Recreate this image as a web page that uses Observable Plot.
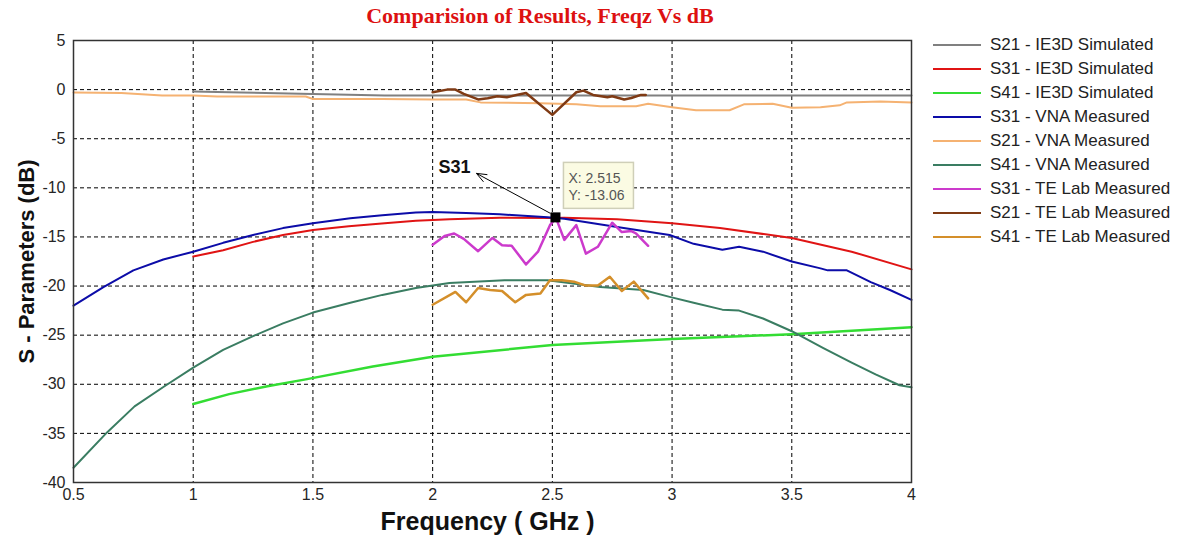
<!DOCTYPE html>
<html>
<head>
<meta charset="utf-8">
<script src="https://cdn.jsdelivr.net/npm/d3@7"></script>
<script src="https://cdn.jsdelivr.net/npm/@observablehq/plot@0.6"></script>
<style>
  html, body { margin: 0; padding: 0; background: #fff; }
  #wrap { position: relative; width: 1178px; height: 535px; overflow: hidden; background: #fff; }
  #title { height: 30px; line-height: 30px; width: 1080px; text-align: center; position: relative; top: 3px;
           font: bold 22px "Liberation Serif", "Times New Roman", serif; color: #dd1111; white-space: nowrap; }
  #legend { position: absolute; left: 933px; top: 33px; font: 17px "Liberation Sans", Arial, sans-serif; color: #222; }
  #legend .row { display: flex; align-items: center; height: 24px; line-height: 24px; white-space: nowrap; }
  #legend .sw { width: 48px; height: 2px; margin-right: 9px; }
</style>
</head>
<body>
<div id="wrap">
  <div id="title">Comparision of Results, Freqz Vs dB</div>
  <div id="chart"></div>
  <div id="legend"></div>
</div>
<script>
// ---------- data ----------
const xTicks = [0.5, 1, 1.5, 2, 2.5, 3, 3.5, 4];
const yTicks = [5, 0, -5, -10, -15, -20, -25, -30, -35, -40];

const s21Ie3dF  = [1.0, 1.2, 1.4, 1.6, 1.8, 2.0, 2.5, 3.0, 3.5, 4.0];
const s21Ie3dDb = [-0.2, -0.3, -0.4, -0.5, -0.6, -0.6, -0.6, -0.6, -0.6, -0.6];

const s31Ie3dF  = [1.0, 1.125, 1.25, 1.375, 1.5, 1.65, 1.8, 1.93, 2.07, 2.28, 2.5, 2.55, 2.77, 3.0, 3.2, 3.5, 3.75, 4.0];
const s31Ie3dDb = [-17.0, -16.35, -15.5, -14.8, -14.3, -13.9, -13.6, -13.35, -13.2, -13.05, -13.06, -13.05, -13.2, -13.6, -14.1, -15.1, -16.5, -18.3];

const s41Ie3dF  = [1.0, 1.15, 1.31, 1.47, 1.75, 2.0, 2.5, 3.0, 3.5, 4.0];
const s41Ie3dDb = [-32.0, -31.0, -30.2, -29.5, -28.2, -27.2, -26.0, -25.4, -24.9, -24.2];

const s31VnaF  = [0.5, 0.625, 0.75, 0.875, 1.0, 1.125, 1.25, 1.375, 1.5, 1.656, 1.79, 1.93, 2.0, 2.14, 2.28, 2.48, 2.55, 2.67, 2.75, 2.88, 2.99, 3.09, 3.21, 3.28, 3.38, 3.5, 3.62, 3.65, 3.73, 3.83, 3.91, 4.0];
const s31VnaDb = [-22.0, -20.1, -18.4, -17.3, -16.5, -15.6, -14.8, -14.1, -13.6, -13.1, -12.8, -12.5, -12.45, -12.55, -12.7, -13.0, -13.15, -13.6, -13.9, -14.4, -14.8, -15.7, -16.3, -16.0, -16.5, -17.5, -18.2, -18.4, -18.4, -19.6, -20.4, -21.4];

const s21VnaF  = [0.5, 0.7, 0.87, 1.0, 1.1, 1.47, 1.5, 1.79, 2.0, 2.14, 2.2, 2.45, 2.6, 2.7, 2.85, 2.9, 3.0, 3.1, 3.24, 3.3, 3.42, 3.5, 3.62, 3.7, 3.73, 3.87, 4.0];
const s21VnaDb = [-0.3, -0.35, -0.6, -0.6, -0.7, -0.7, -0.95, -0.95, -1.0, -1.0, -1.3, -1.4, -1.5, -1.7, -1.7, -1.45, -1.8, -2.1, -2.1, -1.5, -1.45, -1.85, -1.8, -1.6, -1.3, -1.2, -1.3];

const s41VnaF  = [0.5, 0.64, 0.755, 0.88, 1.0, 1.125, 1.25, 1.375, 1.5, 1.656, 1.79, 1.93, 2.07, 2.3, 2.48, 2.7, 2.88, 2.99, 3.09, 3.21, 3.28, 3.38, 3.5, 3.63, 3.75, 3.85, 3.95, 4.0];
const s41VnaDb = [-38.5, -34.9, -32.25, -30.2, -28.3, -26.5, -25.1, -23.8, -22.7, -21.7, -20.9, -20.2, -19.7, -19.4, -19.4, -20.1, -20.4, -21.1, -21.7, -22.4, -22.5, -23.3, -24.6, -26.3, -27.8, -29.0, -30.1, -30.3];

const s31TeF  = [2.0, 2.05, 2.09, 2.13, 2.19, 2.25, 2.29, 2.33, 2.39, 2.44, 2.49, 2.515, 2.55, 2.6, 2.64, 2.69, 2.75, 2.79, 2.83, 2.85, 2.9];
const s31TeDb = [-15.8, -14.9, -14.65, -15.2, -16.45, -15.1, -15.85, -15.9, -17.8, -16.5, -13.8, -13.06, -15.3, -13.8, -16.7, -16.0, -13.55, -14.5, -14.4, -14.65, -15.9];

const s21TeF  = [2.0, 2.06, 2.095, 2.13, 2.19, 2.23, 2.27, 2.31, 2.35, 2.39, 2.5, 2.6, 2.63, 2.67, 2.73, 2.75, 2.8, 2.83, 2.87, 2.89];
const s21TeDb = [-0.27, 0.0, 0.0, -0.44, -1.0, -0.88, -0.68, -0.78, -0.54, -0.34, -2.57, -0.27, -0.1, -0.54, -0.78, -0.68, -1.0, -0.85, -0.54, -0.54];

const s41TeF  = [2.0, 2.095, 2.14, 2.19, 2.24, 2.29, 2.345, 2.39, 2.45, 2.49, 2.54, 2.59, 2.64, 2.69, 2.74, 2.79, 2.84, 2.9];
const s41TeDb = [-21.9, -20.6, -21.65, -20.2, -20.4, -20.5, -21.65, -20.9, -20.75, -19.4, -19.4, -19.55, -19.95, -19.95, -19.05, -20.5, -19.55, -21.25];

const seriesNames  = ["S21 - IE3D Simulated", "S31 - IE3D Simulated", "S41 - IE3D Simulated",
                      "S31 - VNA Measured", "S21 - VNA Measured", "S41 - VNA Measured",
                      "S31 - TE Lab Measured", "S21 - TE Lab Measured", "S41 - TE Lab Measured"];
const seriesColors = ["#808080", "#e01414", "#33dd33", "#0c0ca8", "#f5b272", "#3a7d62", "#cc3acc", "#7f3a14", "#d48f2a"];
const seriesWidths = [2, 2, 2.5, 2, 2, 2, 2.5, 2.5, 2.5];

const tipF = 2.515;
const tipDb = -13.06;
const tipLabel = "S31";

// ---------- build table ----------
const seriesData = [
  [s21Ie3dF, s21Ie3dDb], [s31Ie3dF, s31Ie3dDb], [s41Ie3dF, s41Ie3dDb],
  [s31VnaF, s31VnaDb], [s21VnaF, s21VnaDb], [s41VnaF, s41VnaDb],
  [s31TeF, s31TeDb], [s21TeF, s21TeDb], [s41TeF, s41TeDb]
];
const series = seriesNames.map((name, i) => ({
  name, color: seriesColors[i], width: seriesWidths[i],
  points: seriesData[i][0].map((f, j) => ({f, db: seriesData[i][1][j]}))
}));

// ---------- data tip render mark ----------
function dataTip(index, scales) {
  const px = scales.x(tipF), py = scales.y(tipDb);
  const g = d3.create("svg:g").attr("text-anchor", "start");
  const ax1 = px - 5, ay1 = py - 4, ax2 = px - 79, ay2 = py - 44;
  g.append("line").attr("x1", ax1).attr("y1", ay1).attr("x2", ax2).attr("y2", ay2)
    .attr("stroke", "#000").attr("stroke-width", 1);
  const ang = Math.atan2(ay2 - ay1, ax2 - ax1);
  const hl = 11, ha = 0.38;
  g.append("path")
    .attr("d", `M${ax2 - hl * Math.cos(ang - ha)},${ay2 - hl * Math.sin(ang - ha)}L${ax2},${ay2}L${ax2 - hl * Math.cos(ang + ha)},${ay2 - hl * Math.sin(ang + ha)}`)
    .attr("fill", "none").attr("stroke", "#000").attr("stroke-width", 1);
  g.append("text").attr("x", px - 117).attr("y", py - 44).attr("text-anchor", "start").text(tipLabel)
    .attr("font-size", 18).attr("font-weight", "bold").attr("fill", "#111");
  g.append("rect").attr("x", px + 8).attr("y", py - 55).attr("width", 70).attr("height", 46)
    .attr("fill", "#fbfbe3").attr("stroke", "#cfcfb8").attr("stroke-width", 1.5);
  g.append("text").attr("x", px + 13).attr("y", py - 34).attr("text-anchor", "start").text("X: " + tipF)
    .attr("font-size", 14).attr("fill", "#555");
  g.append("text").attr("x", px + 13).attr("y", py - 17).attr("text-anchor", "start").text("Y: " + tipDb)
    .attr("font-size", 14).attr("fill", "#555");
  g.append("rect").attr("x", px - 5).attr("y", py - 5).attr("width", 10).attr("height", 10).attr("fill", "#000");
  return g.node();
}

const fmt = d => String(d);

const chart = Plot.plot({
  width: 1178,
  height: 505,
  marginTop: 10,
  marginBottom: 53,
  marginLeft: 73,
  marginRight: 267,
  style: {fontFamily: "'Liberation Sans', Arial, sans-serif", fontSize: "16px", color: "#262626", background: "#fff"},
  x: {domain: [0.5, 4]},
  y: {domain: [-40, 5]},
  marks: [
    Plot.gridX(xTicks, {stroke: "#000", strokeOpacity: 1, strokeDasharray: "4,3", strokeWidth: 1}),
    Plot.gridY(yTicks, {stroke: "#000", strokeOpacity: 1, strokeDasharray: "4,3", strokeWidth: 1}),
    Plot.axisX({ticks: xTicks, tickFormat: fmt, tickSize: 0, tickPadding: 6, label: null, fontSize: 16}),
    Plot.axisY({ticks: yTicks, tickFormat: fmt, tickSize: 0, tickPadding: 8, label: null, fontSize: 16}),
    ...series.map(s => Plot.line(s.points, {x: "f", y: "db", stroke: s.color, strokeWidth: s.width})),
    Plot.frame({stroke: "#333", strokeWidth: 1.5}),
    Plot.text(["Frequency ( GHz )"], {frameAnchor: "bottom", text: d => d, dy: 39, dx: -5,
      lineAnchor: "middle", textAnchor: "middle", fontSize: 25, fontWeight: "bold", fill: "#111"}),
    Plot.text(["S - Parameters (dB)"], {frameAnchor: "left", text: d => d, rotate: -90, dx: -47,
      lineAnchor: "middle", textAnchor: "middle", fontSize: 22, fontWeight: "bold", fill: "#111"}),
    dataTip
  ]
});
document.getElementById("chart").appendChild(chart);

// ---------- legend ----------
const legend = document.getElementById("legend");
series.forEach(s => {
  const row = document.createElement("div");
  row.className = "row";
  const sw = document.createElement("span");
  sw.className = "sw";
  sw.style.background = s.color;
  const label = document.createElement("span");
  label.textContent = s.name;
  row.appendChild(sw);
  row.appendChild(label);
  legend.appendChild(row);
});
</script>
</body>
</html>
